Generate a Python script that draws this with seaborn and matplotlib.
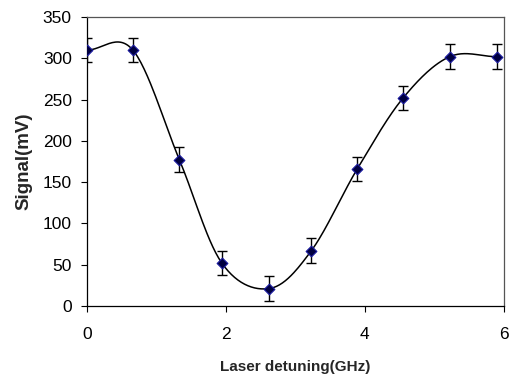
import numpy as np
import pandas as pd
import matplotlib
matplotlib.use("Agg")
import matplotlib.pyplot as plt
import seaborn as sns

# Data
detuning = [0.0, 0.66, 1.33, 1.94, 2.62, 3.23, 3.89, 4.55, 5.22, 5.90]
signal = [310, 310, 177, 52, 21, 67, 166, 252, 302, 302]
error = [15, 15, 15, 15, 15, 15, 15, 15, 15, 15]
x_ticks = [0, 2, 4, 6]
y_ticks = [0, 50, 100, 150, 200, 250, 300, 350]

sns.set_style("ticks")
plt.rcParams['font.family'] = ['Liberation Sans', 'DejaVu Sans']

df = pd.DataFrame({"x": detuning, "y": signal, "err": error})


def smooth_curve(xs, ys, n=30):
    """Catmull-Rom smoothing (like spreadsheet 'smoothed line')."""
    P = np.column_stack([xs, ys]).astype(float)
    ext = np.vstack([2 * P[0] - P[1], P, 2 * P[-1] - P[-2]])
    out = []
    t = np.linspace(0, 1, n)[:, None]
    for i in range(1, len(ext) - 2):
        p0, p1, p2, p3 = ext[i - 1], ext[i], ext[i + 1], ext[i + 2]
        m1 = (p2 - p0) / 2
        m2 = (p3 - p1) / 2
        h00 = 2 * t**3 - 3 * t**2 + 1
        h10 = t**3 - 2 * t**2 + t
        h01 = -2 * t**3 + 3 * t**2
        h11 = t**3 - t**2
        seg = h00 * p1 + h10 * m1 + h01 * p2 + h11 * m2
        out.append(seg if i == 1 else seg[1:])
    arr = np.vstack(out)
    return arr[:, 0], arr[:, 1]


cx, cy = smooth_curve(df["x"], df["y"])
curve = pd.DataFrame({"x": cx, "y": cy})

fig = plt.figure(figsize=(5.12, 3.8), dpi=100)
ax = fig.add_axes([0.170, 0.195, 0.814, 0.760])

sns.lineplot(data=curve, x="x", y="y", ax=ax, color="black", linewidth=1.1,
             sort=False, estimator=None)
ax.errorbar(df["x"], df["y"], yerr=df["err"], fmt="none", ecolor="black",
            elinewidth=1.0, capsize=3.6, capthick=1.0, zorder=3)
sns.scatterplot(data=df, x="x", y="y", ax=ax, marker="D", s=30,
                color="#000040", edgecolor="#1a1aa0", linewidth=0.8, zorder=4)

ax.set_xlim(0, 6)
ax.set_ylim(0, 350)
ax.set_xticks(x_ticks)
ax.set_yticks(y_ticks)
ax.tick_params(labelsize=12.5, direction="out", length=4, width=0.8, colors="black")
ax.tick_params(axis="x", pad=11)
ax.tick_params(axis="y", pad=7)
for s in ax.spines.values():
    s.set_visible(True)
    s.set_color("#555555")
    s.set_linewidth(0.9)
ax.spines["left"].set_color("black")
ax.spines["bottom"].set_color("black")

ax.set_xlabel("Laser detuning(GHz)", fontsize=11, fontweight="bold")
ax.set_ylabel("Signal(mV)", fontsize=13.5, fontweight="bold")
ax.xaxis.set_label_coords(0.5, -0.187)
ax.yaxis.set_label_coords(-0.132, 0.5)

fig.savefig("out.png", dpi=100)
